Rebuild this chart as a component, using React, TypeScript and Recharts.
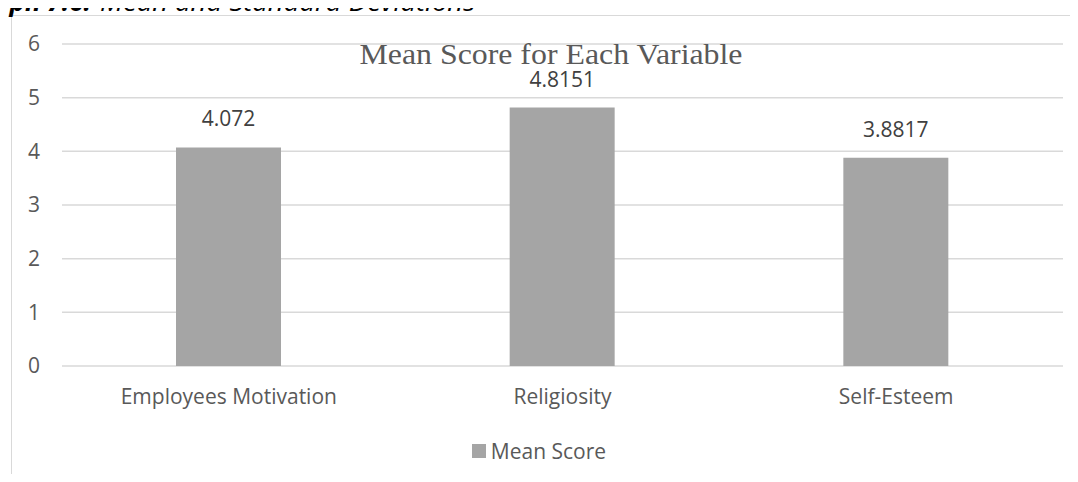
import React from "react";
import {
  BarChart,
  Bar,
  XAxis,
  YAxis,
  CartesianGrid,
  Legend,
  LabelList,
} from "recharts";

const categories = ["Employees Motivation", "Religiosity", "Self-Esteem"];
const meanScores = [4.072, 4.8151, 3.8817];
const yTicks = [0, 1, 2, 3, 4, 5, 6];

const chartData = categories.map((name, i) => ({
  name,
  meanScore: meanScores[i],
}));

const TEXT = "#595959";
const BAR = "#A5A5A5";
const GRID = "#D9D9D9";
const FONT = "'Open Sans', sans-serif";

const LegendContent = () => (
  <div
    style={{
      display: "flex",
      justifyContent: "center",
      alignItems: "center",
      fontFamily: FONT,
      fontSize: 21,
      color: TEXT,
    }}
  >
    <span
      style={{
        display: "inline-block",
        width: 14,
        height: 14,
        background: BAR,
        marginRight: 5,
      }}
    />
    <span>Mean Score</span>
  </div>
);

export default function App() {
  return (
    <div
      style={{
        position: "relative",
        margin: -8,
        width: 1078,
        height: 482,
        overflow: "hidden",
        background: "#fff",
      }}
    >
      {/* chart frame, runs off the right and bottom of the picture */}
      <div
        style={{
          position: "absolute",
          left: 11,
          top: 15,
          width: 1200,
          height: 700,
          border: `1.5px solid ${GRID}`,
        }}
      />
      <div style={{ position: "absolute", left: 0, top: 0 }}>
        <BarChart
          width={1078}
          height={482}
          data={chartData}
          margin={{ top: 44, right: 15, bottom: 86, left: 0 }}
        >
          <CartesianGrid vertical={false} stroke={GRID} strokeWidth={1.5} />
          <XAxis
            dataKey="name"
            axisLine={false}
            tickLine={false}
            tickSize={0}
            tickMargin={23}
            tick={{ fill: TEXT, fontSize: 21, fontFamily: FONT }}
          />
          <YAxis
            width={62}
            domain={[0, 6]}
            ticks={yTicks}
            axisLine={false}
            tickLine={false}
            tickSize={0}
            tickMargin={22}
            tick={{ fill: TEXT, fontSize: 21, fontFamily: FONT }}
          />
          <Legend
            layout="horizontal"
            verticalAlign="middle"
            align="center"
            wrapperStyle={{ top: 437, left: 0, width: 1078 }}
            content={<LegendContent />}
          />
          <Bar
            dataKey="meanScore"
            name="Mean Score"
            fill={BAR}
            barSize={105}
            isAnimationActive={false}
          >
            <LabelList
              dataKey="meanScore"
              position="top"
              offset={21}
              fill="#404040"
              fontSize={21}
              fontFamily={FONT}
            />
          </Bar>
        </BarChart>
      </div>
      <svg
        width={1078}
        height={482}
        style={{ position: "absolute", left: 0, top: 0, pointerEvents: "none" }}
      >
        <text
          x={91}
          y={11}
          textAnchor="end"
          fontFamily={FONT}
          fontStyle="italic"
          fontWeight="bold"
          fontSize={26}
          fill="#000"
        >
          Graph 7.6:
        </text>
        <text
          x={100}
          y={11}
          fontFamily={FONT}
          fontStyle="italic"
          fontSize={26}
          textLength={375}
          lengthAdjust="spacingAndGlyphs"
          fill="#000"
        >
          Mean and Standard Deviations
        </text>
        <text
          x={551}
          y={64}
          textAnchor="middle"
          fontFamily="'Liberation Serif', 'Times New Roman', serif"
          fontSize={29}
          textLength={383}
          lengthAdjust="spacingAndGlyphs"
          fill={TEXT}
        >
          Mean Score for Each Variable
        </text>
      </svg>
    </div>
  );
}
